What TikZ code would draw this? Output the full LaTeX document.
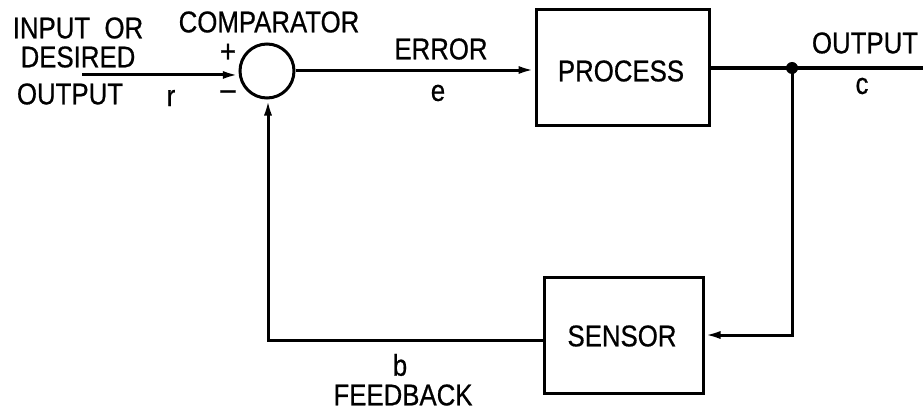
\documentclass[tikz,border=0pt]{standalone}
\usepackage{fontspec}
\setmainfont{Liberation Sans}[FakeStretch=0.86,FakeBold=0.6]
\usetikzlibrary{arrows.meta}
\begin{document}
\begin{tikzpicture}[x=1pt,y=-1pt,line width=3pt,
  lbl/.style={font=\fontsize{30}{32}\selectfont,inner sep=0pt},
  sgn/.style={font=\fontsize{32}{34}\selectfont,inner sep=0pt},
  blk/.style={draw,line width=3pt,inner sep=0pt},
  arr/.style={-{Latex[length=16pt,width=8pt]}}]
\useasboundingbox (0,0) rectangle (923,412);
% blocks
\node[blk,circle,minimum size=54pt] (cmp) at (267,71) {};
\node[blk,minimum width=173pt,minimum height=115pt] (proc) at (622.5,67.5) {};
\node[lbl] (proct) at (621,71) {PROCESS};
\node[blk,minimum width=159pt,minimum height=116pt] (sens) at (623.5,335) {};
\node[lbl] (senst) at (622,336) {SENSOR};
% coordinates
\coordinate (in) at (82,75);
\coordinate (dot) at (792,68);
\coordinate (out) at (923,68);
\coordinate (br) at (792,335);
\coordinate (bl) at (268,340);
% connectors
\draw[arr] (in |- cmp.188) -- (cmp.188);
\draw[arr] (cmp.east |- 0,70) -- (proc.west |- 0,70);
\draw (proc.east |- dot) -- (out);
\fill (dot) circle (6pt);
\draw[arr] (dot) -- (br) -- (sens.east |- br);
\draw[arr] (sens.west |- bl) -- (bl) -- (bl |- cmp.south);
% labels
\node[lbl] (t1) at (78,28) {INPUT\ \ OR};
\node[lbl] (t2) at (78,57) {DESIRED};
\node[lbl] (t3) at (70,94) {OUTPUT};
\node[lbl] (tr) at (171,98) {r};
\node[lbl] (tc) at (269,22) {COMPARATOR};
\node[sgn] (tp) at (228,53) {+};
\node[sgn] (tm) at (228,95) {\textendash};
\node[lbl] (te) at (441,49) {ERROR};
\node[lbl] (te2) at (438,93) {e};
\node[lbl] (to) at (865,43) {OUTPUT};
\node[lbl] (toc) at (862,86) {c};
\node[lbl] (tb) at (400,365) {b};
\node[lbl] (tf) at (403,395) {FEEDBACK};
\end{tikzpicture}
\end{document}
